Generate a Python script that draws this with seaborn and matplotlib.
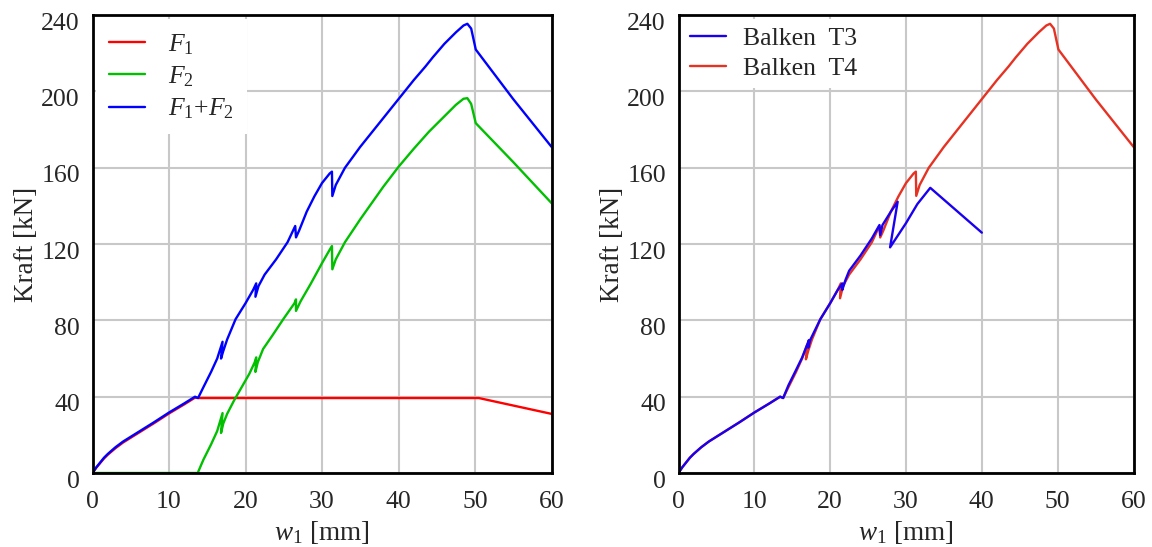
import matplotlib
matplotlib.use("Agg")
import matplotlib.pyplot as plt
import matplotlib.transforms as mtransforms
import seaborn as sns

# --- Daten ---
# linkes Diagramm: F1, F2, F1+F2
f1_w = [0, 0.5, 1, 1.5, 2, 3, 4, 5, 6, 8, 10, 12, 13.4, 13.8, 17, 21.5, 26.5, 31.5, 40, 50.5, 60]
f1_k = [0, 2.8, 5.2, 7.6, 9.6, 13, 16, 18.5, 21, 26, 31.2, 36, 39.5, 39.3, 39.3, 39.3, 39.3,
        39.3, 39.3, 39.3, 31]

f2_w = [0, 13.75, 14.5, 15.5, 16.3, 17.0, 16.8, 17.1, 17.6, 18.5, 19.5, 20.5, 21.2, 21.4, 21.3, 21.6,
        22.3, 23.5, 25, 26.4, 26.6, 26.6, 27.2, 28.5, 30, 31.0, 31.3, 31.35, 31.8, 33, 35, 38, 40, 42,
        44, 46, 47.5, 48.5, 49.0, 49.5, 50.1, 55, 60]
f2_k = [0, 0, 7, 15, 22, 31.4, 21, 26, 31, 38, 45, 52, 58, 60.6, 53, 58, 65, 72, 81, 89, 91, 85, 90,
        99, 110, 117, 119, 106.8, 112, 121, 133, 150, 160.5, 170, 179, 187, 193, 196.2, 196.5, 193.5,
        183.4, 163, 141.5]

fs_w = [0, 0.5, 1, 1.5, 2, 3, 4, 5, 6, 8, 10, 12, 13.4, 13.8, 14.5, 15.5, 16.3, 17.0, 16.8, 17.1,
        17.6, 18.7, 20, 21.0, 21.4, 21.3, 21.7, 22.5, 24, 25.5, 26.5, 26.6, 27.0, 28, 29, 30, 31.0,
        31.3, 31.35, 31.8, 33, 35, 38, 40, 42, 43.5, 44.5, 46, 47.5, 48.5, 49.0, 49.5, 50.1, 55, 60]
fs_k = [0, 3, 5.5, 8, 10, 13.5, 16.5, 19, 21.5, 26.5, 31.7, 36.5, 40, 39.3, 45, 53, 60, 68.8, 60,
        64, 70, 80.6, 89, 96, 99.4, 92.4, 98, 104, 112, 121, 129.5, 123.5, 127, 137, 145, 152, 157,
        158, 145.2, 151, 160, 171, 186, 196, 206, 213, 218, 225, 231, 234.6, 235.5, 233, 222, 196,
        171]

# rechtes Diagramm: Balken T3 / T4
t3_w = [0, 0.5, 1, 1.5, 2, 3, 4, 5, 6, 8, 10, 12, 13.4, 13.8, 14.5, 15.5, 16.3, 17.2, 17.1, 17.4,
        18.7, 20, 21.0, 21.6, 21.6, 22.0, 22.5, 24, 25.5, 26.5, 26.6, 26.9, 28.0, 28.9, 27.9, 30,
        31.5, 33.2, 40]
t3_k = [0, 3, 5.5, 8, 10, 13.5, 16.5, 19, 21.5, 26.5, 31.7, 36.5, 40, 39.3, 46, 54, 60.5, 69.7,
        65.7, 70, 80.6, 89, 96, 99.4, 96, 101, 106, 114, 123, 130, 124.7, 130, 137, 142.2, 118.3,
        131, 141, 149.5, 126]

t4_w = fs_w
t4_k = [0, 3, 5.5, 8, 10, 13.5, 16.5, 19, 21.5, 26.5, 31.7, 36.5, 40, 39.3, 45, 53, 60, 67.5, 59.6,
        64, 70, 80.6, 89, 96, 99.4, 91.6, 98, 104, 112, 121, 129.5, 123.5, 127, 137, 145, 152, 157,
        158, 145.3, 151, 160, 171, 186, 196, 206, 213, 218, 225, 231, 234.6, 235.5, 233, 222, 196,
        171]

x_ticks = [0, 10, 20, 30, 40, 50, 60]
y_ticks = [0, 40, 80, 120, 160, 200, 240]

sns.set_style("white")
plt.rcParams["font.family"] = ["Liberation Serif", "DejaVu Serif"]
plt.rcParams["mathtext.fontset"] = "custom"
plt.rcParams["mathtext.rm"] = "Liberation Serif"
plt.rcParams["mathtext.it"] = "Liberation Serif:italic"

FS_TICK = 18.5
FS_LAB = 19.5
fig = plt.figure(figsize=(11.52, 5.47), dpi=100)
ax1 = fig.add_axes([92.5 / 1152, 74 / 547, 459 / 1152, 457.8 / 547])
ax2 = fig.add_axes([678.5 / 1152, 74 / 547, 455 / 1152, 457.8 / 547])

kw = dict(sort=False, estimator=None, linewidth=1.7, solid_joinstyle="round")
sns.lineplot(x=f1_w, y=f1_k, color="#ff0000", label="$F_1$", ax=ax1, **kw)
sns.lineplot(x=f2_w, y=f2_k, color="#00c000", label="$F_2$", ax=ax1, **kw)
sns.lineplot(x=fs_w, y=fs_k, color="#0000ff", label="$F_1$+$F_2$", ax=ax1, **kw)

sns.lineplot(x=t4_w, y=t4_k, color="#e63222", label="Balken  T4", ax=ax2, **kw)
sns.lineplot(x=t3_w, y=t3_k, color="#1a00f0", label="Balken  T3", ax=ax2, **kw)

down = mtransforms.ScaledTranslation(0, -6 / 100, fig.dpi_scale_trans)
for ax in (ax1, ax2):
    ax.set_xlim(0, 60)
    ax.set_ylim(0, 240)
    ax.set_xticks(x_ticks)
    ax.set_yticks(y_ticks)
    ax.grid(True, color="#c8c8c8", linewidth=1.5)
    ax.set_axisbelow(True)
    for s in ax.spines.values():
        s.set_color("black")
        s.set_linewidth(2)
    ax.tick_params(axis="both", length=0, labelsize=FS_TICK)
    ax.tick_params(axis="x", pad=13)
    ax.tick_params(axis="y", pad=9)
    for lab in ax.get_yticklabels():
        lab.set_transform(lab.get_transform() + down)
    ax.set_xlabel("$w_1$ [mm]", fontsize=FS_LAB, labelpad=4.5)
    ax.set_ylabel("Kraft [kN]", fontsize=FS_LAB, labelpad=2)

leg_kw = dict(loc="upper left", fontsize=FS_TICK, frameon=True, facecolor="white",
              edgecolor="none", framealpha=1, fancybox=False, handlelength=1.4,
              borderaxespad=0.15, labelspacing=0.3)
leg1 = ax1.legend(handletextpad=0.9, borderpad=0.5, **leg_kw)
h, l = ax2.get_legend_handles_labels()
leg2 = ax2.legend(h[::-1], l[::-1], handletextpad=0.65, borderpad=0.3, **leg_kw)

fig.savefig("out.png", dpi=100)
